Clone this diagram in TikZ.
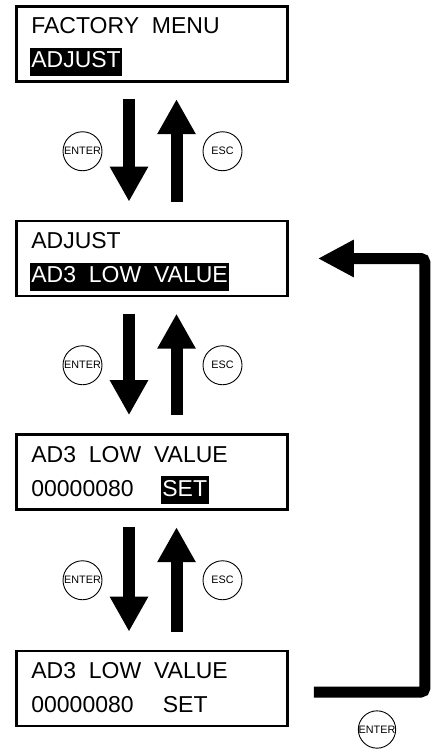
\documentclass[tikz,border=0pt]{standalone}
\usepackage{fontspec}
\setmainfont{Liberation Sans}
\usetikzlibrary{arrows.meta, positioning, calc}

\begin{document}
\begin{tikzpicture}[x=1pt, y=-1pt,
  lcd/.style={draw, line width=2.7pt, minimum width=271pt, minimum height=75pt, inner sep=0pt},
  lcdline/.style={anchor=base west, inner sep=0pt, font=\fontsize{23}{23}\selectfont},
  hilite/.style={lcdline, fill=black, text=white, inner xsep=1.5pt, inner ysep=0pt, text height=20pt, text depth=8pt},
  key/.style={draw, circle, line width=0.9pt, minimum size=39pt, inner sep=0pt, font=\fontsize{10.8}{10.8}\selectfont},
  fat/.style={line width=12pt, -{Triangle[length=35pt, width=36pt]}},
  back/.style={line width=11pt, rounded corners=4pt, -{Triangle[length=36pt, width=35pt]}}]
\useasboundingbox (0,0) rectangle (431,749);

% 表示枠
\node[lcd] (menu) at (152,44) {};
\node[lcd] (adjust) at (152,258.5) {};
\node[lcd] (low) at (152,472) {};
\node[lcd] (set) at (152,688.5) {};

% 表示内容
\node[lcdline] (menutop) at ($(menu.west)+(16,-10)$) {FACTORY\ \ MENU};
\node[hilite] (menusel) at ($(menu.west)+(14.5,24)$) {ADJUST};
\node[lcdline] (adjusttop) at ($(adjust.west)+(16,-10)$) {ADJUST};
\node[hilite] (adjustsel) at ($(adjust.west)+(14.5,24)$) {AD3\ \ LOW\ \ VALUE};
\node[lcdline] (lowtop) at ($(low.west)+(16,-10)$) {AD3\ \ LOW\ \ VALUE};
\node[lcdline] (lowval) at ($(low.west)+(16,24)$) {00000080};
\node[hilite] (lowsel) at ($(low.west)+(145.5,24)$) {SET};
\node[lcdline] (settop) at ($(set.west)+(16,-10)$) {AD3\ \ LOW\ \ VALUE};
\node[lcdline] (setval) at ($(set.west)+(16,24)$) {00000080};
\node[lcdline] (setcmd) at ($(set.west)+(147.5,24)$) {SET};

% ENTER / ESC の矢印
\foreach \a/\b in {menu/adjust, adjust/low, low/set} {
  \draw[fat, shorten <=16.3pt, shorten >=18pt] ([xshift=-23pt]\a.south) -- ([xshift=-23pt]\b.north);
  \draw[fat, shorten <=18pt, shorten >=16.3pt] ([xshift=24.5pt]\b.north) -- ([xshift=24.5pt]\a.south);
  \node[key] (enter\a) at ($(\a.south)!0.5!(\b.north)+(-69.5,0)$) {ENTER};
  \node[key] (esc\a) at ($(\a.south)!0.5!(\b.north)+(70.5,0)$) {ESC};
}

% 戻り
\draw[back, shorten <=25pt, shorten >=29pt] ([yshift=-3.5pt]set.east) -- ++(136,0) |- (adjust.east);
\node[key, minimum size=37pt] (enterset) at (377,729.5) {ENTER};

\end{tikzpicture}
\end{document}
